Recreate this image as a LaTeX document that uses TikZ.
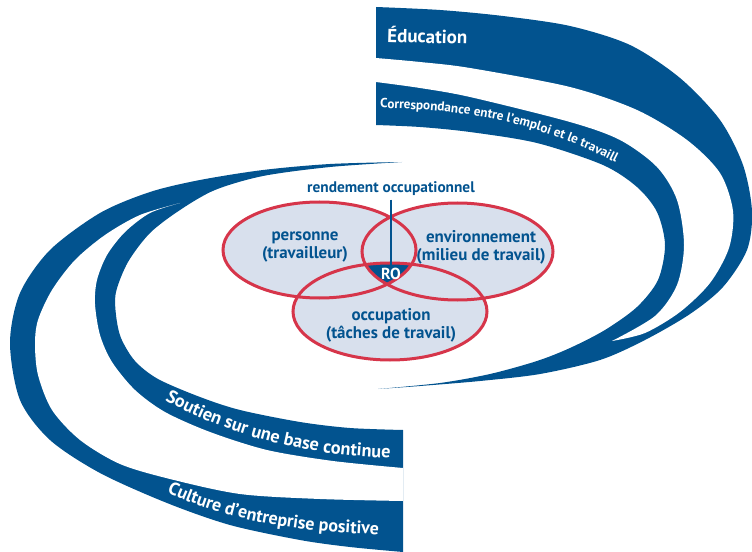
\documentclass[tikz,border=0pt]{standalone}
\usepackage{fontspec}
\setmainfont{PT Sans}
\usetikzlibrary{decorations.text}

\definecolor{ciblue}{HTML}{02538F}
\definecolor{cired}{HTML}{D6354A}
\definecolor{cifill}{HTML}{D8E0ED}
\newcommand\cifont[2]{\fontsize{#1}{#2}\selectfont\bfseries}

\begin{document}
\begin{tikzpicture}[x=1bp, y=-1bp,
  band/.style={fill=ciblue},
  bandgap/.style={fill=white},
  bandtext/.style={decorate, decoration={text along path, text color=white, text={#1}}},
  vennfill/.style={fill=cifill},
  vennring/.style={draw=cired, line width=3bp},
  venntext/.style={text=ciblue, align=center, font=\cifont{17}{18}},
  roline/.style={draw=ciblue, line width=2bp}]
\useasboundingbox (0,0) rectangle (752,552);

% right spiral: education + correspondance
\fill[band] plot[smooth] coordinates {(376,7) (440,10) (503,16) (570,26) (630,45) (680,78) (720,120) (743,165) (752,211) (747,250) (723,287) (690,314) (645,340) (600,360) (540,374) (480,381) (420,386) (378,389)}
  -- plot[smooth] coordinates {(378,389) (440,383) (490,374) (537,361) (570,348) (605,330) (637,307) (658,280) (665,245) (657,212) (637,187) (603,165) (537,143) (470,132) (420,127) (376,125)} -- cycle;
\fill[bandgap] plot[smooth] coordinates {(376,58) (420,62) (470,68) (570,87) (637,110) (687,140) (720,173) (733,211) (729,248) (710,283) (680,312) (645,333) (612,341)}
  -- plot[smooth] coordinates {(612,341) (655,316) (677,285) (684,245) (677,200) (657,167) (620,140) (570,122) (470,97) (420,88) (376,82)} -- cycle;

% left spiral: soutien + culture
\fill[band] plot[smooth] coordinates {(403,552) (350,547) (300,540) (230,525) (167,503) (100,473) (50,440) (20,400) (10,343) (20,293) (50,250) (100,213) (150,192) (200,180) (263,170) (330,164) (402,162)}
  -- plot[smooth] coordinates {(402,162) (330,167) (263,176) (215,190) (180,210) (150,233) (128,262) (116,292) (116,315) (121,338) (135,361) (158,379) (200,397) (240,410) (300,422) (350,428) (403,430)} -- cycle;
\fill[bandgap] plot[smooth] coordinates {(403,501) (320,499) (240,494) (170,479) (120,464) (80,440) (52,410) (38,375) (35,344) (38,320) (52,290) (75,260) (105,235) (140,215) (180,203)}
  -- plot[smooth] coordinates {(180,203) (150,213) (125,232) (107,255) (97,280) (95,304) (100,335) (112,362) (135,390) (165,412) (210,432) (267,450) (333,461) (403,468)} -- cycle;

\node[anchor=base west, rotate=-1.5, text=white, inner sep=0, font=\cifont{19}{19}] (education) at (387,42) {Éducation};
\path[bandtext={|\cifont{13.2}{14}|Correspondance entre l’emploi et le travaill}] (380,108) .. controls (460,110) and (530,118) .. (620,165) -- (660,186);
\path[bandtext={|\cifont{18.3}{19}|Soutien sur une base continue}] (165,400) .. controls (222,432) and (300,457) .. (400,458) -- (460,458);
\path[bandtext={|\cifont{18}{19}|Culture d’entreprise positive}] (167,492) .. controls (225,520) and (300,534) .. (400,535) -- (460,535);

% venn
\coordinate (cP) at (319.5,250);
\coordinate (cE) at (457.5,251.5);
\coordinate (cO) at (390,311.5);
\fill[vennfill] (cP) ellipse [x radius=96.5bp, y radius=48bp] (cE) ellipse [x radius=95.5bp, y radius=48.5bp] (cO) ellipse [x radius=97bp, y radius=48.5bp];
\begin{scope}
\clip (cP) ellipse [x radius=96.5bp, y radius=48bp];
\clip (cE) ellipse [x radius=95.5bp, y radius=48.5bp];
\fill[ciblue] (cO) ellipse [x radius=97bp, y radius=48.5bp];
\end{scope}
\draw[vennring] (cP) ellipse [x radius=96.5bp, y radius=48bp] (cE) ellipse [x radius=95.5bp, y radius=48.5bp] (cO) ellipse [x radius=97bp, y radius=48.5bp];

\node[venntext] (personne) at (305,247) {personne\\(travailleur)};
\node[venntext] (environnement) at (481,247) {environnement\\(milieu de travail)};
\node[venntext] (occupation) at (391,325) {occupation\\(tâches de travail)};
\node[text=white, inner sep=1bp, font=\cifont{16}{16}] (ro) at (391,274) {RO};
\node[text=ciblue, font=\cifont{15.4}{15.4}] (rolabel) at (391,189) {rendement occupationnel};
\draw[roline] (rolabel) -- (ro);
\end{tikzpicture}
\end{document}
